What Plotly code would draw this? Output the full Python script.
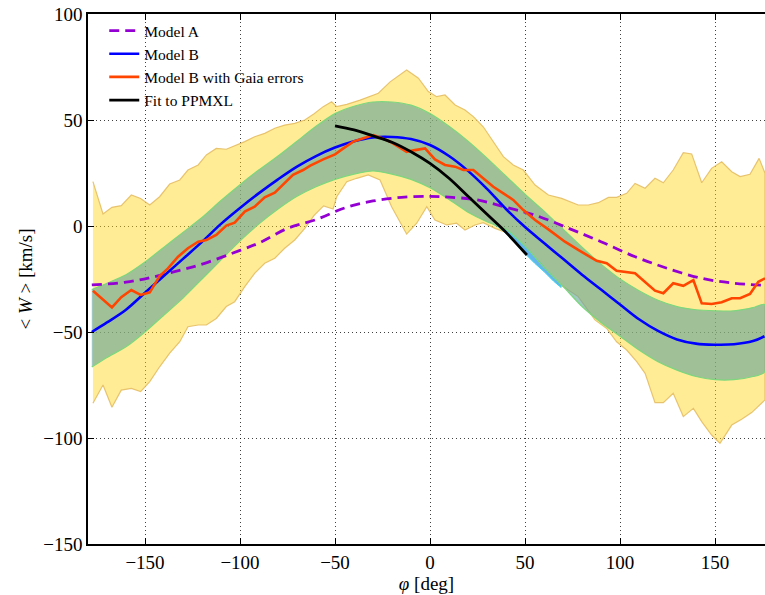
import plotly.graph_objects as go

# ---------------- data ----------------
# Model B (smooth) and its green band
phi_b = [-178, -170, -160, -150, -140, -130, -120, -110, -100, -90, -80, -70, -60, -50, -40, -30, -20, -10,
         0, 10, 20, 30, 40, 50, 60, 70, 80, 90, 100, 110, 120, 130, 140, 150, 160, 170, 176]
w_b = [-50, -45.5, -39.5, -31.5, -23.5, -15.5, -7.5, 1, 8.5, 15.5, 22, 28, 33, 37, 40, 41.8, 42, 41,
       38.2, 33, 26, 17.5, 8, -0.5, -8, -15.5, -23, -30, -37, -44, -49.5, -53.5, -55.5, -56, -55.8, -54.3, -52]
green_up = [-30, -27, -23, -17, -10, -3, 4, 12, 19.5, 26.5, 33, 40, 47, 53, 56.5, 58.5, 58.5, 57,
            53, 47, 40, 32, 23.5, 15, 7, -1.5, -10, -18, -25, -30.5, -35, -38, -39.5, -40, -40, -38.5, -37]
green_lo = [-66.5, -62, -57, -50, -42, -34, -25, -16, -7, 1, 8, 14, 18.5, 22, 24.5, 26, 24.5, 22,
            18, 12.5, 6.5, 2, -1.5, -9.5, -19.5, -28.5, -38, -45.5, -52, -58.5, -64, -68, -71, -72.5, -72.5, -71, -69]

# Model A
phi_a = [-178, -160, -145, -130, -118.6, -100, -90, -75, -60, -45, -30, -15, 0, 10, 25, 40, 55, 73,
         90, 108, 125, 143, 160, 176]
w_a = [-27.8, -26.5, -23.9, -20.5, -17.6, -11.5, -8, -1.1, 3, 8.5, 11.8, 13.5, 14, 13.6, 12.3, 8.8, 5.2, -1.1,
       -7.4, -14.5, -20, -24.7, -27, -28]

# Model B with Gaia errors
phi_g = [-177.4, -167.4, -162.5, -157.2, -152.3, -147.5, -142.3, -137.9, -132.6, -127.4, -122, -117.7,
         -112.5, -107.2, -102.8, -97.5, -92.3, -87, -81.7, -77.4, -72.1, -66.8, -63, -56.2, -50, -45.6,
         -40.4, -35.1, -29.8, -25.4, -21, -16.7, -12.3, -7.9, -2.6, 2.6, 7.9, 13.2, 17.5, 22.8, 28, 33.3,
         38.6, 43.8, 49.1, 55.3, 62.3, 71, 78, 87.7, 93, 98.2, 107.9, 113.2, 118.4, 122.8, 128, 133.3,
         138.6, 143, 148.2, 153.5, 158.8, 163.2, 168.4, 172.8, 176.3]
w_g = [-30.5, -38.4, -33.6, -30.2, -32.5, -31.3, -23.6, -20, -14.5, -10.5, -7.4, -6.6,
       -4.2, 0.2, 1.6, 6.8, 9.1, 13.5, 15.7, 19.3, 24.1, 26.4, 28.5, 31.4, 33.8, 36.6,
       39.8, 41.4, 42.9, 41.4, 39.8, 37.4, 35, 35.8, 36.6, 31.4, 28.8, 28, 26.4, 26.4, 22.5, 18.5,
       15.4, 12.3, 7.5, 2.8, -1.6, -7.4, -11.3, -16.4, -17.6, -21.1, -22.3, -26.3, -30.5, -31.7, -27, -28.2,
       -25.5, -36.5, -36.8, -36, -34.1, -34.1, -32.1, -26.3, -24.7]

# yellow band (Gaia-error scatter)
phi_yu = [-177.4, -172.1, -167.4, -162.5, -157.2, -152.3, -147.5, -142.3, -137, -131.7, -127.4, -122,
          -117.7, -112.5, -107.2, -102.8, -97.5, -92.3, -87, -81.7, -76.5, -71.2, -65.9, -61, -56.2,
          -51.8, -49.1, -43.8, -36.8, -27.2, -21, -12.3, -6.1, -0.9, 3.5, 7.9, 13.2, 18.4, 22.8, 28,
          33.3, 38.6, 43.8, 49.1, 55.3, 62.3, 69.3, 78, 83.3, 88.6, 93.9, 98.2, 103.5, 107.9, 113.2,
          118.4, 122.8, 128, 133.3, 137.7, 143, 148.2, 153.5, 158.8, 163.2, 168.4, 173.2, 176.3]
w_yu = [20.9, 5.7, 8.8, 9.6, 14.6, 13, 9.9, 13.8, 19.8, 21.7, 26.4, 28.8,
        33.5, 36.6, 36.2, 37.7, 39.8, 42.1, 43.7, 46.1, 47.6, 48.4, 50, 53, 56.3,
        58.6, 56.3, 57.4, 59.4, 62.6, 68, 73.6, 69.7, 63.4, 61, 61.8, 57.1, 54.7, 51.6, 46.8,
        39.8, 32.7, 28.8, 26.4, 19.3, 14.6, 13, 9.9, 9.9, 11, 13.5, 13.5, 15.4, 20.1, 17.8,
        22.5, 20.4, 26.4, 34.6, 34, 20.4, 27.2, 30.3, 25.6, 23.3, 24.4, 31.9, 24.9]
phi_yl = [-177.4, -172.1, -167.4, -162.5, -157.2, -152.3, -147.5, -142.3, -137, -131.7, -127.4, -122,
          -117.7, -112.5, -107.2, -102.8, -97.5, -92.3, -87, -81.7, -76.5, -71.2, -65.9, -61, -56,
          -51, -49.1, -43.8, -38.6, -32.5, -26.3, -20.2, -12.3, -7, -1.7, 2.6, 8.8, 14, 18.4, 23.7,
          28, 34.2, 40, 50, 60, 70, 78, 86.8, 93, 98.2, 103.5, 108.8, 113.2, 118.4, 122.8, 128,
          133.3, 138.6, 143, 148.2, 152.6, 158.8, 164, 169.3, 176.3]
w_yl = [-83.6, -75, -85.5, -77.4, -76.6, -78.1, -73.4, -66.4, -60, -54.6, -47.5, -46.7,
        -46.7, -43.6, -38, -35.7, -28.6, -22.3, -17.6, -15.2, -10.5, -6.6, -1.1, 5, 9.5,
        8, 13.8, 20.9, 22.5, 24.1, 21.7, 9.1, -3.8, 1.3, 9.1, 2.8, 0.5, 1.3, -1.9, 0.5,
        1.6, -1.1, -3, -11, -20, -28.5, -33.3, -44.3, -48.3, -54.6, -58.5, -64, -69.5, -83.3, -83.3, -78.9,
        -89.9, -86, -92.3, -98.6, -102.5, -93.9, -91.2, -88, -82]

# light-blue band (PPMXL fit uncertainty, visible part)
phi_c = [33, 36, 40, 45, 50, 55, 60, 65, 69]
w_c_up = [1, 0, -1.5, -5.5, -9.5, -14.5, -19.5, -24, -28]
w_c_lo = [1, -0.5, -3.5, -8.2, -13, -17.5, -21.5, -26, -29]

# Fit to PPMXL
phi_f = [-50, -40, -30, -20, -10, 0, 10, 20, 30, 40, 51]
w_f = [47.2, 45.3, 42.5, 39.5, 35, 29.5, 22.5, 14, 5.5, -3, -13.7]

x_ticks = [-150, -100, -50, 0, 50, 100, 150]
y_ticks = [-150, -100, -50, 0, 50, 100]

# ---------------- figure ----------------
FONT = "Liberation Serif"
fig = go.Figure()

fig.add_trace(go.Scatter(x=phi_yu + phi_yl[::-1], y=w_yu + w_yl[::-1], fill="toself",
                         fillcolor="rgba(255,213,25,0.46)", mode="lines",
                         line=dict(color="rgba(230,190,100,0.9)", width=1.2),
                         showlegend=False, hoverinfo="skip"))
fig.add_trace(go.Scatter(x=phi_c + phi_c[::-1], y=w_c_up + w_c_lo[::-1], fill="toself",
                         fillcolor="rgb(100,180,240)", mode="lines",
                         line=dict(color="rgb(60,210,230)", width=1),
                         showlegend=False, hoverinfo="skip"))
fig.add_trace(go.Scatter(x=phi_b + phi_b[::-1], y=green_up + green_lo[::-1], fill="toself",
                         fillcolor="rgba(97,163,153,0.6)", mode="lines",
                         line=dict(color="rgb(125,215,125)", width=1.2, shape="spline", smoothing=0.6),
                         showlegend=False, hoverinfo="skip"))

fig.add_trace(go.Scatter(x=phi_a, y=w_a, mode="lines", name="Model A",
                         line=dict(color="#9400D3", width=2.8, dash="10px,6px", shape="spline")))
fig.add_trace(go.Scatter(x=phi_b, y=w_b, mode="lines", name="Model B",
                         line=dict(color="#0000FF", width=2.6, shape="spline")))
fig.add_trace(go.Scatter(x=phi_g, y=w_g, mode="lines", name="Model B with Gaia errors",
                         line=dict(color="#FF4500", width=2.6)))
fig.add_trace(go.Scatter(x=phi_f, y=w_f, mode="lines", name="Fit to PPMXL",
                         line=dict(color="#000000", width=2.8, shape="spline")))

axis_common = dict(showline=True, linecolor="black", linewidth=1.5, automargin=False,
                   ticks="inside", ticklen=6, tickwidth=1, tickcolor="black",
                   ticklabeloverflow="allow",
                   showgrid=True, gridcolor="rgba(0,0,0,0.75)", griddash="1px,3px", gridwidth=1,
                   zeroline=False, tickfont=dict(family=FONT, size=19, color="black"))

fig.update_xaxes(range=[-180, 176.3], tickvals=x_ticks, mirror="ticks",
                 title=dict(text="<i>φ</i> [deg]", font=dict(family=FONT, size=19, color="black"),
                            standoff=1),
                 **axis_common)
fig.update_yaxes(range=[-150, 100], tickvals=y_ticks,
                 title=dict(text="< <i>W</i> > [km/s]", font=dict(family=FONT, size=19, color="black"),
                            standoff=6),
                 **axis_common)

fig.update_layout(
    width=765, height=595,
    margin=dict(l=88, r=0, t=14, b=51),
    paper_bgcolor="white", plot_bgcolor="white",
    showlegend=True,
    legend=dict(x=0.024, y=1.0, xanchor="left", yanchor="top",
                bgcolor="rgba(0,0,0,0)", borderwidth=0,
                font=dict(family=FONT, size=15.5, color="black"),
                itemwidth=30, tracegroupgap=0),
)

# remove the browser's default 8px page margin so the figure fills the window exactly
fig.write_html("out.html", config={"displayModeBar": False},
               post_script="document.body.style.margin='0';document.body.style.overflow='hidden';")
